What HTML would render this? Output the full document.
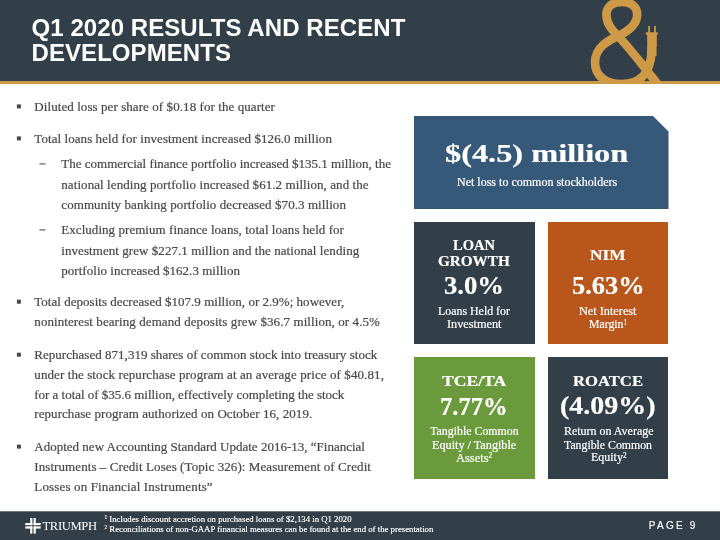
<!DOCTYPE html>
<html><head><meta charset="utf-8"><title>Q1 2020 Results and Recent Developments</title>
<style>
html,body{margin:0;padding:0;}
body{width:720px;height:540px;position:relative;overflow:hidden;background:#fff;font-family:"Liberation Serif",serif;}
.hdr{position:absolute;left:0;top:0;width:720px;height:81px;background:#323e48;}
.gold{position:absolute;left:0;top:81px;width:720px;height:3px;background:#cc9848;}
.title{position:absolute;left:31.5px;top:14.9px;letter-spacing:0.07px;color:#fff;font-family:"Liberation Sans",sans-serif;font-weight:bold;font-size:24px;line-height:25.3px;white-space:nowrap;}
.ln{position:absolute;white-space:nowrap;color:#484848;-webkit-text-stroke:0.2px #484848;font-size:13px;line-height:20px;height:20px;}
.bl{position:absolute;width:4.2px;height:4.2px;background:#484848;}
.ds{position:absolute;width:5.8px;height:1.4px;background:#484848;}
.box{position:absolute;}
.t{position:absolute;white-space:nowrap;color:#fff;-webkit-text-stroke:0.2px #fff;transform-origin:0 0;}
.h{font-weight:bold;font-size:15px;line-height:16px;}
.v{font-weight:bold;font-size:24.5px;line-height:26px;}
.w{font-weight:bold;font-size:26px;line-height:28px;}
.s{font-size:12px;line-height:14px;}
.ft{position:absolute;left:0;top:0;transform:translateY(511.3px);width:720px;height:30px;background:#323e48;}
.fn{position:absolute;left:104.5px;color:#fff;-webkit-text-stroke:0.15px #fff;font-size:8.75px;line-height:9.4px;white-space:nowrap;}
.pg{position:absolute;left:648.8px;top:520.3px;color:#fff;-webkit-text-stroke:0.15px #fff;font-family:"Liberation Sans",sans-serif;font-size:10px;line-height:12px;letter-spacing:2.25px;white-space:nowrap;}
.tr{position:absolute;left:42.5px;top:518.6px;color:#fff;font-size:12.6px;line-height:14px;letter-spacing:-0.35px;white-space:nowrap;}
sup{font-size:60%;line-height:0;vertical-align:baseline;position:relative;top:-0.45em;}
</style></head><body>
<div class="hdr"></div><div class="gold"></div>
<div class="title">Q1 2020 RESULTS AND RECENT<br>DEVELOPMENTS</div>
<svg style="position:absolute;left:560px;top:0" width="160" height="84" viewBox="560 0 160 84">
<g fill="none" stroke="#cf9a48" stroke-width="8.6" stroke-linecap="butt" stroke-linejoin="round">
<path d="M658.2,85 L639.4,61 C631.4,51.5 625.4,43.5 617.9,36 C610.6,28.5 606.4,23 606.4,14.4 C606.4,6.5 613,1.9 621.8,1.9 C630.6,1.9 637.2,6.5 637.2,14.4 C637.2,25 626,32.2 617.9,36 C608.5,40.5 595,47 595,62.5 C595,76 606,84 621,84 C640,84 651.8,74 651.8,46"/>
<path d="M651.8,46 L651.8,56" stroke-width="9.5"/>
</g>
<g fill="#cf9a48">
<rect x="647.2" y="34" width="9.6" height="13"/>
<rect x="645.8" y="32.3" width="12" height="2.4" rx="0.8"/>
<rect x="648.2" y="26" width="1.8" height="7"/>
<rect x="654.1" y="26" width="1.8" height="7"/>
</g>
</svg>
<div class="bl" style="left:0;top:0;transform:translate(16.9px,104.4px)"></div>
<div class="ln" style="left:34.3px;top:96.7px;letter-spacing:0.075px">Diluted loss per share of $0.18 for the quarter</div>
<div class="bl" style="left:0;top:0;transform:translate(16.9px,136.4px)"></div>
<div class="ln" style="left:34.3px;top:128.7px;letter-spacing:0.071px">Total loans held for investment increased $126.0 million</div>
<div class="ds" style="left:0;top:0;transform:translate(39.4px,163.40px)"></div>
<div class="ln" style="left:61.3px;top:154.3px;letter-spacing:0.002px">The commercial finance portfolio increased $135.1 million, the</div>
<div class="ln" style="left:61.3px;top:175.0px;letter-spacing:0.076px">national lending portfolio increased $61.2 million, and the</div>
<div class="ln" style="left:61.3px;top:195.0px;letter-spacing:0.075px">community banking portfolio decreased $70.3 million</div>
<div class="ds" style="left:0;top:0;transform:translate(39.4px,229.40px)"></div>
<div class="ln" style="left:61.3px;top:220.3px;letter-spacing:0.048px">Excluding premium finance loans, total loans held for</div>
<div class="ln" style="left:61.3px;top:241.0px;letter-spacing:0.061px">investment grew $227.1 million and the national lending</div>
<div class="ln" style="left:61.3px;top:261.0px;letter-spacing:0.031px">portfolio increased $162.3 million</div>
<div class="bl" style="left:0;top:0;transform:translate(16.9px,299.7px)"></div>
<div class="ln" style="left:34.3px;top:292.0px;letter-spacing:0.022px">Total deposits decreased $107.9 million, or 2.9%; however,</div>
<div class="ln" style="left:34.3px;top:312.0px;letter-spacing:0.083px">noninterest bearing demand deposits grew $36.7 million, or 4.5%</div>
<div class="bl" style="left:0;top:0;transform:translate(16.9px,352.7px)"></div>
<div class="ln" style="left:34.3px;top:345.0px;letter-spacing:0.029px">Repurchased 871,319 shares of common stock into treasury stock</div>
<div class="ln" style="left:34.3px;top:364.5px;letter-spacing:0.093px">under the stock repurchase program at an average price of $40.81,</div>
<div class="ln" style="left:34.3px;top:384.7px;letter-spacing:-0.021px">for a total of $35.6 million, effectively completing the stock</div>
<div class="ln" style="left:34.3px;top:404.2px;letter-spacing:0.058px">repurchase program authorized on October 16, 2019.</div>
<div class="bl" style="left:0;top:0;transform:translate(16.9px,444.6px)"></div>
<div class="ln" style="left:34.3px;top:436.9px;letter-spacing:0.006px">Adopted new Accounting Standard Update 2016-13, “Financial</div>
<div class="ln" style="left:34.3px;top:456.5px;letter-spacing:0.078px">Instruments – Credit Loses (Topic 326): Measurement of Credit</div>
<div class="ln" style="left:34.3px;top:476.9px;letter-spacing:0.151px">Losses on Financial Instruments”</div>
<div class="box" style="left:414px;top:116px;width:254.5px;height:93px;background:#375979;clip-path:polygon(0 0,239px 0,254.5px 15.5px,254.5px 93px,0 93px);"></div>
<div class="box" style="left:414px;top:222px;width:120.6px;height:122px;background:#323e48"></div>
<div class="box" style="left:547.5px;top:222px;width:120.7px;height:122px;background:#b9561b"></div>
<div class="box" style="left:414px;top:357px;width:120.6px;height:122px;background:#6a9a3b"></div>
<div class="box" style="left:547.5px;top:357px;width:120.7px;height:122px;background:#323e48"></div>
<div class="t w" style="left:445.3px;top:140.2px;transform:scaleX(1.244)">$(4.5) million</div>
<div class="t s" style="left:456.9px;top:174.5px;transform:scaleX(1.001)">Net loss to common stockholders</div>
<div class="t h" style="left:453.0px;top:236.9px;transform:scaleX(0.969)">LOAN</div>
<div class="t h" style="left:438.2px;top:253.2px;transform:scaleX(1.013)">GROWTH</div>
<div class="t v" style="left:443.8px;top:273.2px;transform:scaleX(1.088)">3.0%</div>
<div class="t s" style="left:438.0px;top:303.9px;transform:scaleX(0.991)">Loans Held for</div>
<div class="t s" style="left:446.8px;top:316.9px;transform:scaleX(1.022)">Investment</div>
<div class="t h" style="left:590.0px;top:246.9px;transform:scaleX(1.152)">NIM</div>
<div class="t v" style="left:571.8px;top:272.7px;transform:scaleX(1.076)">5.63%</div>
<div class="t s" style="left:579.2px;top:303.9px;transform:scaleX(1.021)">Net Interest</div>
<div class="t s" style="left:588.8px;top:316.9px;transform:scaleX(0.982)">Margin<sup>1</sup></div>
<div class="t h" style="left:442.0px;top:373.2px;transform:scaleX(1.174)">TCE/TA</div>
<div class="t v" style="left:440.0px;top:394.0px;transform:scaleX(1.002)">7.77%</div>
<div class="t s" style="left:430.0px;top:423.9px;transform:scaleX(0.992)">Tangible Common</div>
<div class="t s" style="left:432.0px;top:437.7px;transform:scaleX(1.016)">Equity / Tangible</div>
<div class="t s" style="left:456.2px;top:450.7px;transform:scaleX(1.038)">Assets<sup>2</sup></div>
<div class="t h" style="left:573.0px;top:373.2px;transform:scaleX(1.110)">ROATCE</div>
<div class="t v" style="left:560.0px;top:392.5px;transform:scaleX(1.141)">(4.09%)</div>
<div class="t s" style="left:563.5px;top:423.9px;transform:scaleX(0.997)">Return on Average</div>
<div class="t s" style="left:564.2px;top:437.7px;transform:scaleX(0.983)">Tangible Common</div>
<div class="t s" style="left:590.5px;top:450.4px;transform:scaleX(0.997)">Equity<sup>2</sup></div>
<div class="ft"></div>
<svg style="position:absolute;left:25.2px;top:518.3px" width="16" height="16" viewBox="0 0 16 16">
<g fill="#fff">
<rect x="5.2" y="0" width="2.2" height="7.2"/><rect x="0.3" y="5" width="7.1" height="2.2"/>
<rect x="8.6" y="0" width="2.2" height="7.2"/><rect x="8.6" y="5" width="7.1" height="2.2"/>
<rect x="5.2" y="8.4" width="2.2" height="7.2"/><rect x="0.3" y="8.4" width="7.1" height="2.2"/>
<rect x="8.6" y="8.4" width="2.2" height="7.2"/><rect x="8.6" y="8.4" width="7.1" height="2.2"/>
</g></svg>
<div class="tr">TRIUMPH</div>
<div class="fn" style="top:514.7px"><sup>1</sup> Includes discount accretion on purchased loans of $2,134 in Q1 2020</div>
<div class="fn" style="top:524.7px"><sup>2</sup> Reconciliations of non-GAAP financial measures can be found at the end of the presentation</div>
<div class="pg">PAGE 9</div>
</body></html>
